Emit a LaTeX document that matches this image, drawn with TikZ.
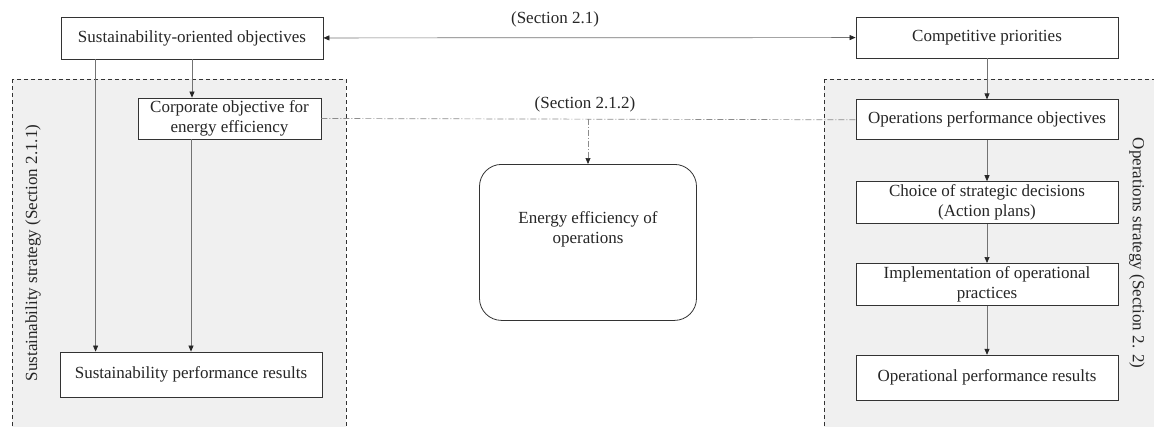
\documentclass[tikz,border=0pt]{standalone}
\usepackage{fontspec}
\setmainfont{Liberation Serif}
\usetikzlibrary{arrows.meta,positioning}

\begin{document}
\begin{tikzpicture}[x=1pt,y=-1pt,>={Triangle[length=6pt,width=5pt,color=black!85]},
  font=\fontsize{17}{20}\selectfont,text=black!85,
  box/.style={draw=black!80,line width=0.8pt,fill=white,minimum width=262pt,align=center,inner sep=0pt},
  region/.style={draw=black!80,dashed,dash pattern=on 4pt off 3pt,line width=0.8pt,fill=black!6},
  link/.style={->,draw=black!55,line width=0.7pt},
  dashdot/.style={draw=black!45,line width=0.7pt,dash pattern=on 6pt off 2pt on 1pt off 2pt}]
\useasboundingbox (0,0) rectangle (1154,426);
\path[region] (12,79) rectangle (346,432);
\path[region] (824,79) rectangle (1162,432);

\node[box,minimum height=42pt] (so) at (192,38) {Sustainability-oriented objectives};
\node[box,minimum height=41pt,minimum width=183pt] (ceo) at (229.5,118.5) {Corporate objective for\\energy efficiency};
\node[box,minimum height=45pt] (spr) at (191,374.5) {Sustainability performance results};

\node[box,minimum height=41pt] (cp) at (987,37.5) {Competitive priorities};
\node[box,minimum height=40pt] (opo) [below=41pt of cp] {Operations performance objectives};
\node[box,minimum height=42pt] (csd) [below=41pt of opo] {Choice of strategic decisions\\(Action plans)};
\node[box,minimum height=42pt] (iop) [below=39pt of csd] {Implementation of operational\\practices};
\node[box,minimum height=45pt] (opr) [below=49pt of iop] {Operational performance results};

\node[draw=black!80,line width=0.8pt,fill=white,rounded corners=22pt,minimum width=217pt,minimum height=156pt,
  align=center,text depth=0pt,anchor=north] (eeo) at (588,164) {};
\node[align=center] (eeot) at (588,229) {Energy efficiency of\\operations};

\node (s21) at (555,19) {(Section 2.1)};
\node (s212) at (585,104) {(Section 2.1.2)};
\node[rotate=90] (ss) at (33,253) {Sustainability strategy (Section 2.1.1)};
\node[rotate=-90] (os) at (1137,253) {Operations strategy (Section 2. 2)};

\draw[link,<->] (so) -- (cp);
\draw[link] ([xshift=35pt]so.south west) -- ([xshift=35pt]so.south west |- spr.north);
\draw[link] (so.south) -- (so.south |- ceo.north);
\draw[link] (ceo.south -| spr.north) -- (spr.north);
\draw[link] (cp) -- (opo);
\draw[link] (opo) -- (csd);
\draw[link] (csd) -- (iop);
\draw[link] (iop) -- (opr);

\draw[dashdot] (ceo.east) -- (opo.west);
\coordinate (split) at (ceo.east -| eeo.north);
\draw[dashdot,->] (split) -- (eeo.north);
\end{tikzpicture}
\end{document}
